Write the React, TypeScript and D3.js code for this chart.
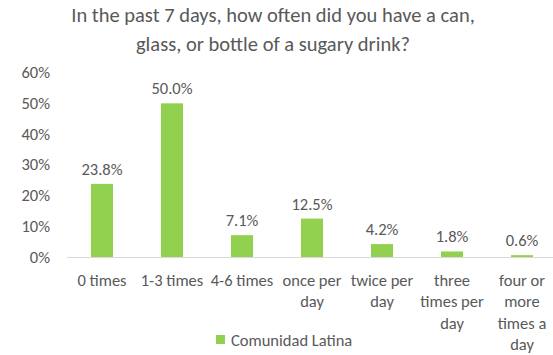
import React from "react";
import * as d3 from "d3";

const categories: string[][] = [
  ["0 times"],
  ["1-3 times"],
  ["4-6 times"],
  ["once per", "day"],
  ["twice per", "day"],
  ["three", "times per", "day"],
  ["four or", "more", "times a", "day"],
];
const values = [23.8, 50.0, 7.1, 12.5, 4.2, 1.8, 0.6];
const yTicks = [0, 10, 20, 30, 40, 50, 60];
const titleLines = [
  "In the past 7 days, how often did you have a can,",
  "glass, or bottle of a sugary drink?",
];
const seriesName = "Comunidad Latina";

const W = 553;
const H = 355;
const FONT = "Carlito, Calibri, Lato, sans-serif";
const TEXT = "#595959";
const BAR = "#92d050";
const FS = 16.5;

export default function App() {
  const x = d3
    .scaleBand<number>()
    .domain(values.map((_, i) => i))
    .range([67, 557])
    .paddingInner(0.685)
    .paddingOuter(0.3425);
  const y = d3.scaleLinear().domain([0, 60]).range([257, 72.6]);

  return (
    <svg
      width={W}
      height={H}
      style={{ position: "absolute", left: 0, top: 0, background: "#fff" }}
      fontFamily={FONT}
    >
      {titleLines.map((t, i) => (
        <text
          key={i}
          x={273}
          y={22 + i * 28.5}
          textAnchor="middle"
          fontSize={20.5}
          fill={TEXT}
        >
          {t}
        </text>
      ))}
      {yTicks.map((t) => (
        <text
          key={t}
          x={50}
          y={y(t) + 5.5}
          textAnchor="end"
          fontSize={FS}
          fill={TEXT}
        >
          {t}%
        </text>
      ))}
      {values.map((v, i) => (
        <g key={i}>
          <rect
            x={x(i)}
            y={y(v)}
            width={x.bandwidth()}
            height={y(0) - y(v)}
            fill={BAR}
          />
          <text
            x={(x(i) as number) + x.bandwidth() / 2}
            y={y(v) - 9}
            textAnchor="middle"
            fontSize={FS}
            fill={TEXT}
          >
            {v.toFixed(1)}%
          </text>
          {categories[i].map((line, j) => (
            <text
              key={j}
              x={(x(i) as number) + x.bandwidth() / 2}
              y={285.5 + j * 21.6}
              textAnchor="middle"
              fontSize={FS}
              fill={TEXT}
            >
              {line}
            </text>
          ))}
        </g>
      ))}
      <line x1={67} x2={553} y1={257.5} y2={257.5} stroke="#d9d9d9" strokeWidth={1} />
      <rect x={216} y={335} width={9} height={9} fill={BAR} />
      <text x={231} y={345.5} fontSize={FS} fill={TEXT}>
        {seriesName}
      </text>
    </svg>
  );
}
